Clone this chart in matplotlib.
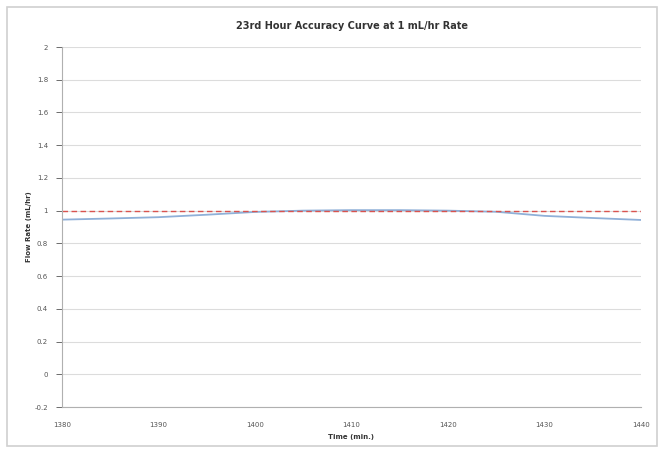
import matplotlib
matplotlib.use('Agg')
import matplotlib.pyplot as plt
from matplotlib.patches import Rectangle

# data
time_min = [1380, 1385, 1390, 1395, 1400, 1405, 1410, 1415, 1420, 1425, 1430, 1435, 1440]
flow_rate = [0.945, 0.952, 0.960, 0.975, 0.992, 1.000, 1.003, 1.003, 1.000, 0.993, 0.968, 0.955, 0.943]
target_rate = [1, 1]
target_time = [1380, 1440]

x_ticks = [1380, 1390, 1400, 1410, 1420, 1430, 1440]
y_ticks = [-0.2, 0, 0.2, 0.4, 0.6, 0.8, 1, 1.2, 1.4, 1.6, 1.8, 2]
y_ticklabels = ['-0.2', '0', '0.2', '0.4', '0.6', '0.8', '1', '1.2', '1.4', '1.6', '1.8', '2']

fig = plt.figure(figsize=(6.61, 4.53), dpi=100)
# chart area frame
fig.patches.append(Rectangle((7/661, 1-446/453), 650/661, 439/453, transform=fig.transFigure,
                             fill=False, edgecolor='#d0d0d0', linewidth=1.2))
ax = fig.add_axes([62/661, 1-407/453, 579/661, 360/453])

ax.plot(time_min, flow_rate, color='#8fb0d8', linewidth=1.3)
ax.plot(target_time, target_rate, color='#d9534f', linewidth=1.0, dashes=(4, 2.5))

ax.set_xlim(1380, 1440)
ax.set_ylim(-0.2, 2)
ax.set_xticks(x_ticks)
ax.set_yticks(y_ticks)
ax.set_yticklabels(y_ticklabels)
ax.grid(axis='y', color='#dcdcdc', linewidth=0.8)
ax.set_axisbelow(True)
for s in ['top', 'right']:
    ax.spines[s].set_visible(False)
ax.spines['left'].set_color('#b0b0b0')
ax.spines['bottom'].set_color('#b0b0b0')
ax.tick_params(labelsize=5, colors='#555555', length=4, width=0.6, pad=6)
ax.tick_params(axis='x', length=0, pad=11)

ax.set_title('23rd Hour Accuracy Curve at 1 mL/hr Rate', fontsize=7, fontweight='bold',
             color='#333333', pad=13)
ax.set_xlabel('Time (min.)', fontsize=5, fontweight='bold', color='#333333', labelpad=4)
ax.set_ylabel('Flow Rate (mL/hr)', fontsize=5, fontweight='bold', color='#333333', labelpad=2)

fig.savefig('out.png', dpi=100)
